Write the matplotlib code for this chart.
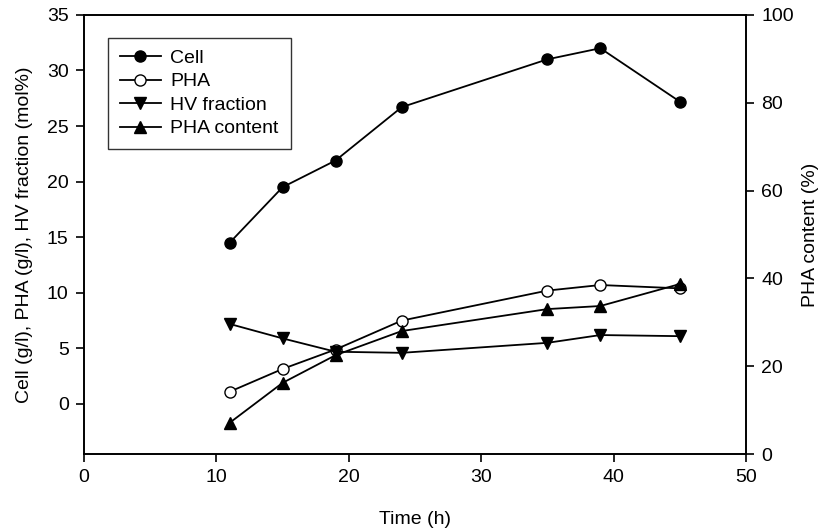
import numpy as np
import matplotlib
matplotlib.use('Agg')
import matplotlib.pyplot as plt

plt.rcParams['font.family'] = ['Liberation Sans', 'DejaVu Sans']
plt.rcParams['font.size'] = 14

# 数据
time_h = [11, 15, 19, 24, 35, 39, 45]
cell = [14.5, 19.5, 21.9, 26.7, 31.0, 32.0, 27.2]
pha = [1.1, 3.15, 4.9, 7.5, 10.2, 10.7, 10.4]
hv_fraction = [7.2, 5.9, 4.7, 4.6, 5.5, 6.2, 6.1]
pha_content = [7.1, 16.2, 22.5, 28.0, 33.0, 33.7, 38.7]

fig = plt.figure(figsize=(8.39, 5.31), dpi=100)
ax = fig.add_axes([0.1001, 0.145, 0.789, 0.827])
ax2 = ax.twinx()

lw = 1.3
l1, = ax.plot(time_h, cell, '-o', color='black', lw=lw, ms=8, mfc='black', label='Cell')
l2, = ax.plot(time_h, pha, '-o', color='black', lw=lw, ms=8, mfc='white', label='PHA')
l3, = ax.plot(time_h, hv_fraction, '-v', color='black', lw=lw, ms=8, mfc='black', label='HV fraction')
l4, = ax2.plot(time_h, pha_content, '-^', color='black', lw=lw, ms=8, mfc='black', label='PHA content')

ax.set_xlim(0, 50)
ax.set_ylim(-4.5, 35)
ax2.set_ylim(0, 100)
ax.set_xticks(np.arange(0, 51, 10))
ax.set_yticks(np.arange(0, 36, 5))
ax2.set_yticks(np.arange(0, 101, 20))

for a in (ax, ax2):
    a.tick_params(direction='out', length=6, width=1.2, labelsize=14, pad=5)
    for s in a.spines.values():
        s.set_linewidth(1.2)

ax.set_xlabel('Time (h)', fontsize=14, labelpad=18)
ax.set_ylabel('Cell (g/l), PHA (g/l), HV fraction (mol%)', fontsize=14, labelpad=10)
ax2.set_ylabel('PHA content (%)', fontsize=14, labelpad=6)

leg = ax.legend(handles=[l1, l2, l3, l4], loc='upper left', bbox_to_anchor=(0.022, 0.97),
                frameon=True, fancybox=False, edgecolor='black', handlelength=2.1,
                handletextpad=0.5, borderpad=0.6, labelspacing=0.3, fontsize=14)
leg.get_frame().set_linewidth(1.0)

fig.savefig('out.png', dpi=100)
